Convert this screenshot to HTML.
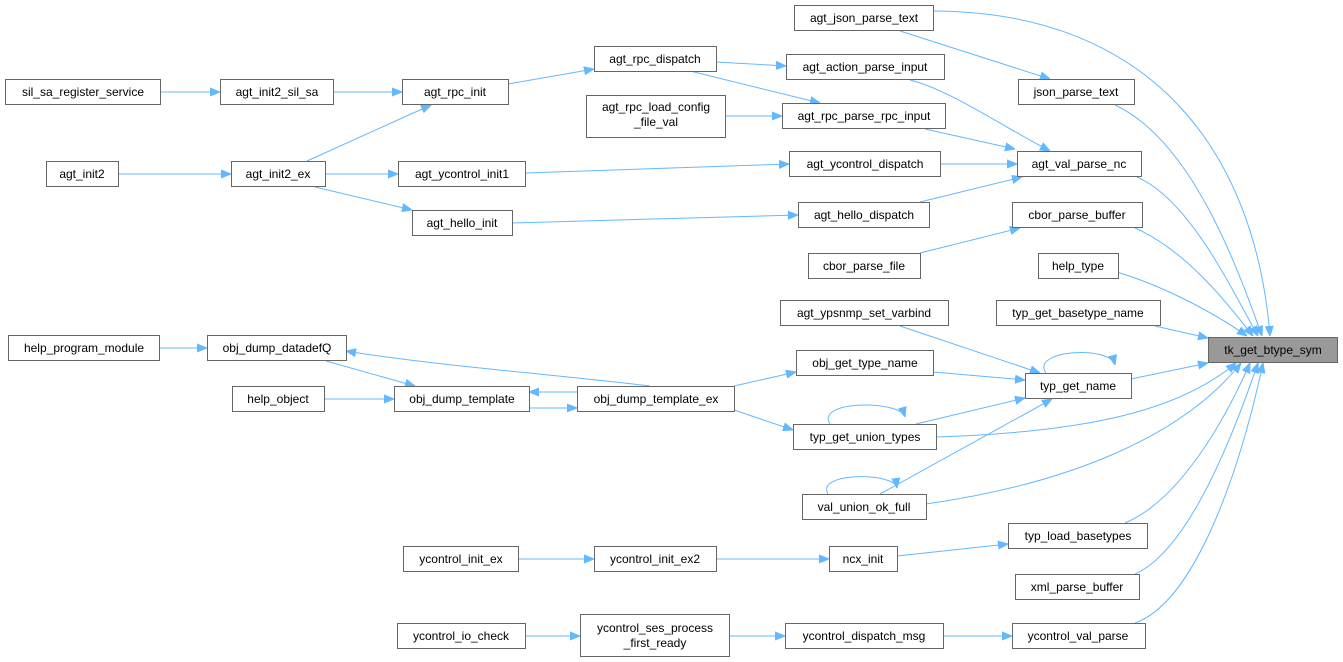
<!DOCTYPE html>
<html><head><meta charset="utf-8"><style>
html,body{margin:0;padding:0;background:#fff;}
svg{display:block;}
text{font-family:"Liberation Sans",Arial,sans-serif;font-size:12px;fill:#000;}
rect{fill:#fff;stroke:#666;stroke-width:1;}
path{fill:none;stroke:#63b8ff;stroke-width:1;}
</style></head><body>
<svg width="1343" height="662" viewBox="0 0 1343 662" xmlns="http://www.w3.org/2000/svg">
<defs><marker id="a" viewBox="0 0 10 10" refX="10" refY="5" markerWidth="10" markerHeight="10" markerUnits="userSpaceOnUse" orient="auto"><path d="M0,1 L10,5 L0,9 Z" style="fill:#63b8ff;stroke:#63b8ff"/></marker></defs>
<g marker-end="url(#a)">
<!-- to tk_get_btype_sym -->
<path d="M934,11 C1150,12 1255,150 1270,336"/>
<path d="M1115,105 C1190,140 1235,260 1262,336"/>
<path d="M1137,177 C1190,200 1232,290 1258,336"/>
<path d="M1135,228 C1185,250 1225,300 1253,336"/>
<path d="M1117,272 C1160,285 1210,310 1247,336"/>
<path d="M1155,326 L1208,338"/>
<path d="M1131,379 L1208,363"/>
<path d="M936,437 C1090,432 1180,410 1236,363"/>
<path d="M926,504 C1060,485 1180,440 1241,363"/>
<path d="M1125,523 C1180,500 1225,420 1250,363"/>
<path d="M1135,574 C1190,550 1235,430 1258,363"/>
<path d="M1135,623 C1200,600 1245,450 1263,363"/>
<!-- upper -->
<path d="M900,31 L1050,79"/>
<path d="M716,62 L786,66"/>
<path d="M690,71 L820,103"/>
<path d="M910,80 C950,90 1000,125 1050,151"/>
<path d="M725,116 L782,116"/>
<path d="M925,129 L1015,149"/>
<path d="M940,164 L1017,164"/>
<path d="M920,202 L1022,177"/>
<path d="M161,92 L220,92"/>
<path d="M333,92 L402,92"/>
<path d="M508,84 L594,69"/>
<path d="M118,174 L231,174"/>
<path d="M307,161 L431,105"/>
<path d="M325,174 L398,174"/>
<path d="M315,187 L412,210"/>
<path d="M525,173 L789,164"/>
<path d="M512,223 L798,215"/>
<path d="M920,253 L1020,228"/>
<!-- middle -->
<path d="M159,348 L207,348"/>
<path d="M650,386 C560,375 430,365 346,351"/>
<path d="M326,361 L415,386"/>
<path d="M324,399 L394,399"/>
<path d="M529,408 L577,408"/>
<path d="M577,392 L529,392"/>
<path d="M734,386 L796,372"/>
<path d="M734,410 L793,430"/>
<path d="M900,326 L1040,373"/>
<path d="M933,372 L1025,380"/>
<path d="M1046,373 C1030,350 1110,345 1115,365"/>
<path d="M916,424 L1025,398"/>
<path d="M830,424 C815,400 900,400 905,417"/>
<path d="M880,494 L1052,399"/>
<path d="M828,494 C815,472 895,472 897,488"/>
<!-- lower -->
<path d="M518,559 L594,559"/>
<path d="M716,559 L829,559"/>
<path d="M897,556 L1008,544"/>
<path d="M525,636 L580,636"/>
<path d="M729,636 L785,636"/>
<path d="M943,636 L1012,636"/>
</g>
<g>
<rect x="794.5" y="5.5" width="139" height="25"/><text x="864" y="22" text-anchor="middle">agt_json_parse_text</text>
<rect x="594.5" y="46.5" width="122" height="25"/><text x="655" y="63" text-anchor="middle">agt_rpc_dispatch</text>
<rect x="786.5" y="54.5" width="158" height="25"/><text x="865" y="71" text-anchor="middle">agt_action_parse_input</text>
<rect x="1018.5" y="79.5" width="116" height="25"/><text x="1076" y="96" text-anchor="middle">json_parse_text</text>
<rect x="5.5" y="79.5" width="155" height="25"/><text x="83" y="96" text-anchor="middle">sil_sa_register_service</text>
<rect x="220.5" y="79.5" width="113" height="25"/><text x="277" y="96" text-anchor="middle">agt_init2_sil_sa</text>
<rect x="402.5" y="79.5" width="106" height="25"/><text x="455" y="96" text-anchor="middle">agt_rpc_init</text>
<rect x="586.5" y="95.5" width="139" height="42"/><text x="656" y="111" text-anchor="middle">agt_rpc_load_config</text><text x="656" y="126" text-anchor="middle">_file_val</text>
<rect x="782.5" y="103.5" width="163" height="25"/><text x="864" y="120" text-anchor="middle">agt_rpc_parse_rpc_input</text>
<rect x="1017.5" y="151.5" width="124" height="25"/><text x="1079" y="168" text-anchor="middle">agt_val_parse_nc</text>
<rect x="46.5" y="161.5" width="72" height="25"/><text x="82" y="178" text-anchor="middle">agt_init2</text>
<rect x="231.5" y="161.5" width="94" height="25"/><text x="278" y="178" text-anchor="middle">agt_init2_ex</text>
<rect x="398.5" y="161.5" width="127" height="25"/><text x="462" y="178" text-anchor="middle">agt_ycontrol_init1</text>
<rect x="789.5" y="151.5" width="151" height="25"/><text x="865" y="168" text-anchor="middle">agt_ycontrol_dispatch</text>
<rect x="798.5" y="202.5" width="131" height="25"/><text x="864" y="219" text-anchor="middle">agt_hello_dispatch</text>
<rect x="412.5" y="210.5" width="100" height="25"/><text x="462" y="227" text-anchor="middle">agt_hello_init</text>
<rect x="1012.5" y="202.5" width="130" height="25"/><text x="1077" y="219" text-anchor="middle">cbor_parse_buffer</text>
<rect x="808.5" y="253.5" width="112" height="25"/><text x="864" y="270" text-anchor="middle">cbor_parse_file</text>
<rect x="1038.5" y="253.5" width="80" height="25"/><text x="1078" y="270" text-anchor="middle">help_type</text>
<rect x="780.5" y="300.5" width="168" height="25"/><text x="864" y="317" text-anchor="middle">agt_ypsnmp_set_varbind</text>
<rect x="996.5" y="300.5" width="164" height="25"/><text x="1078" y="317" text-anchor="middle">typ_get_basetype_name</text>
<rect x="1208.5" y="337.5" width="129" height="25" style="fill:#999;stroke:#666"/><text x="1273" y="354" text-anchor="middle">tk_get_btype_sym</text>
<rect x="8.5" y="335.5" width="151" height="25"/><text x="84" y="352" text-anchor="middle">help_program_module</text>
<rect x="207.5" y="335.5" width="139" height="25"/><text x="277" y="352" text-anchor="middle">obj_dump_datadefQ</text>
<rect x="796.5" y="350.5" width="137" height="25"/><text x="865" y="367" text-anchor="middle">obj_get_type_name</text>
<rect x="1025.5" y="373.5" width="106" height="25"/><text x="1078" y="390" text-anchor="middle">typ_get_name</text>
<rect x="232.5" y="386.5" width="92" height="25"/><text x="278" y="403" text-anchor="middle">help_object</text>
<rect x="394.5" y="386.5" width="135" height="25"/><text x="462" y="403" text-anchor="middle">obj_dump_template</text>
<rect x="577.5" y="386.5" width="157" height="25"/><text x="656" y="403" text-anchor="middle">obj_dump_template_ex</text>
<rect x="793.5" y="424.5" width="143" height="25"/><text x="865" y="441" text-anchor="middle">typ_get_union_types</text>
<rect x="802.5" y="494.5" width="124" height="25"/><text x="864" y="511" text-anchor="middle">val_union_ok_full</text>
<rect x="1008.5" y="523.5" width="139" height="25"/><text x="1078" y="540" text-anchor="middle">typ_load_basetypes</text>
<rect x="403.5" y="546.5" width="115" height="25"/><text x="461" y="563" text-anchor="middle">ycontrol_init_ex</text>
<rect x="594.5" y="546.5" width="122" height="25"/><text x="655" y="563" text-anchor="middle">ycontrol_init_ex2</text>
<rect x="829.5" y="546.5" width="68" height="25"/><text x="863" y="563" text-anchor="middle">ncx_init</text>
<rect x="1015.5" y="574.5" width="124" height="25"/><text x="1077" y="591" text-anchor="middle">xml_parse_buffer</text>
<rect x="397.5" y="623.5" width="128" height="25"/><text x="461" y="640" text-anchor="middle">ycontrol_io_check</text>
<rect x="580.5" y="614.5" width="149" height="42"/><text x="655" y="632" text-anchor="middle">ycontrol_ses_process</text><text x="655" y="647" text-anchor="middle">_first_ready</text>
<rect x="785.5" y="623.5" width="158" height="25"/><text x="864" y="640" text-anchor="middle">ycontrol_dispatch_msg</text>
<rect x="1012.5" y="623.5" width="133" height="25"/><text x="1078" y="640" text-anchor="middle">ycontrol_val_parse</text>
</g>
</svg>
</body></html>
